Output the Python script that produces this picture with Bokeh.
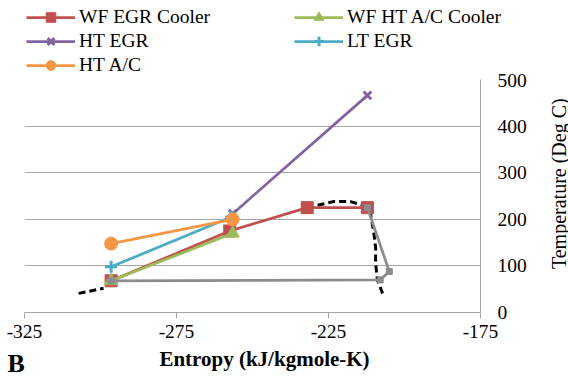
from bokeh.plotting import figure
from bokeh.models import Range1d, FixedTicker, Legend, LegendItem
from bokeh.layouts import column, row
from bokeh.core.properties import value
from bokeh.embed import file_html
from bokeh.resources import INLINE
import math

# ---- data ----
wf_egr_x = [-296.5, -257.5, -232.0, -212.2]
wf_egr_y = [68, 175, 225, 225]
wf_htac_x = [-296.5, -256.5]
wf_htac_y = [68, 170]
ht_egr_x = [-256.5, -212.2]
ht_egr_y = [212, 466]
lt_egr_x = [-296.5, -257.0]
lt_egr_y = [98, 205]
ht_ac_x = [-296.5, -256.5]
ht_ac_y = [148, 200]
cycle_x = [-212.2, -205.0, -208.0, -296.5]
cycle_y = [225, 88, 70, 68]
dome_x = [-307.2, -299.0, float("nan"), -228.6, -223.4, -217.8, -213.5, -211.2, -210.2, -209.5, -209.5, -208.9, -207.2]
dome_y = [41, 52, float("nan"), 230, 238, 238, 230, 212, 176, 139, 105, 69, 41]

series_names = ["WF EGR Cooler", "WF HT A/C Cooler", "HT EGR", "LT EGR", "HT A/C"]
x_ticks = [-325, -275, -225, -175]
x_tick_labels = ["-325", "-275", "-225", "-175"]
y_ticks = [0, 100, 200, 300, 400, 500]
y_tick_labels = ["0", "100", "200", "300", "400", "500"]
x_title = "Entropy (kJ/kgmole-K)"
y_title = "Temperature (Deg C)"
panel_tag = "B"

FONT = "Liberation Serif"
RED = "#C0504D"
GREEN = "#9BBB59"
PURPLE = "#8064A2"
BLUE = "#4BACC6"
ORANGE = "#F79646"
GRAY = "#8C8C8C"
GRID = "#A6A6A6"

styles = [
    dict(color=RED, marker="square", size=12, fill=True),
    dict(color=GREEN, marker="triangle", size=13, fill=True),
    dict(color=PURPLE, marker="x", size=11, fill=False),
    dict(color=BLUE, marker="cross", size=12, fill=False),
    dict(color=ORANGE, marker="circle", size=13, fill=True),
]
series = [(wf_egr_x, wf_egr_y), (wf_htac_x, wf_htac_y), (ht_egr_x, ht_egr_y),
          (lt_egr_x, lt_egr_y), (ht_ac_x, ht_ac_y)]


def blank(fig):
    fig.axis.visible = False
    fig.grid.visible = False
    fig.outline_line_color = None
    fig.background_fill_color = "white"
    fig.border_fill_color = "white"


def draw_series(fig, xs, ys, st):
    ln = fig.line(xs, ys, line_color=st["color"], line_width=2.75)
    if st["fill"]:
        mk = fig.scatter(xs, ys, marker=st["marker"], size=st["size"],
                         fill_color=st["color"], line_color=st["color"])
    else:
        mk = fig.scatter(xs, ys, marker=st["marker"], size=st["size"],
                         line_color=st["color"], line_width=3)
    return ln, mk


# ---------- top strip: legend (series drawn outside its view, used only for the key) ----------
TOP_H = 73
top = figure(width=568, height=TOP_H, x_range=Range1d(0, 568), y_range=Range1d(0, TOP_H),
             output_backend="svg", toolbar_location=None,
             min_border_left=0, min_border_right=0, min_border_top=0, min_border_bottom=0)
blank(top)
items = []
for name, (xs, ys), st in zip(series_names, series, styles):
    ln, mk = draw_series(top, xs, ys, st)
    items.append(LegendItem(label=name, renderers=[ln, mk]))
legend = Legend(items=items, location=(26, -4), orientation="horizontal", ncols=2,
                glyph_width=49, glyph_height=24, label_width=215, label_height=24,
                label_standoff=4, spacing=0, padding=0, margin=0,
                border_line_color=None, background_fill_alpha=0,
                label_text_font=FONT, label_text_font_size="19.5px", label_text_color="black")
top.add_layout(legend, "center")

# ---------- main chart ----------
MAIN_H = 275
p = figure(width=540, height=MAIN_H, x_range=Range1d(-325, -175), y_range=Range1d(0, 500),
           y_axis_location="right", output_backend="svg", toolbar_location=None,
           min_border_left=24, min_border_right=60, min_border_top=6, min_border_bottom=36)
p.outline_line_color = None
p.background_fill_color = "white"
p.border_fill_color = "white"

p.xgrid.visible = False
p.ygrid.ticker = FixedTicker(ticks=y_ticks)
p.ygrid.grid_line_color = GRID
p.ygrid.grid_line_width = 1

xa = p.xaxis[0]
xa.ticker = FixedTicker(ticks=x_ticks)
xa.major_label_overrides = {t: s for t, s in zip(x_ticks, x_tick_labels)}
xa.axis_line_color = GRID
xa.major_tick_line_color = GRID
xa.major_tick_out = 6
xa.major_tick_in = 0
xa.minor_tick_out = 0
xa.minor_tick_in = 0
xa.major_label_standoff = 6
xa.major_label_text_font = FONT
xa.major_label_text_font_size = "19.5px"
xa.major_label_text_color = "black"

ya = p.yaxis[0]
ya.ticker = FixedTicker(ticks=y_ticks)
ya.major_label_overrides = {t: s for t, s in zip(y_ticks, y_tick_labels)}
ya.axis_line_color = GRID
ya.major_tick_out = 0
ya.major_tick_in = 0
ya.minor_tick_out = 0
ya.minor_tick_in = 0
ya.major_label_standoff = 17
ya.major_label_text_font = FONT
ya.major_label_text_font_size = "19.5px"
ya.major_label_text_color = "black"

p.line(dome_x, dome_y, line_color="black", line_width=3, line_dash="7 4")
for (xs, ys), st in zip(series, styles):
    draw_series(p, xs, ys, st)
p.line(cycle_x, cycle_y, line_color=GRAY, line_width=2.75)
p.scatter(cycle_x, cycle_y, marker="square", size=6, fill_color=GRAY, line_color=GRAY)

# ---------- right strip: y title ----------
right = figure(width=28, height=MAIN_H, x_range=Range1d(0, 28), y_range=Range1d(0, MAIN_H),
               output_backend="svg", toolbar_location=None,
               min_border_left=0, min_border_right=0, min_border_top=0, min_border_bottom=0)
blank(right)
right.text(x=[18], y=[152], text=[y_title], angle=math.pi / 2,
           text_align="center", text_baseline="middle",
           text_font=value(FONT), text_font_size="20px", text_color="black")

# ---------- bottom strip: x title and panel tag ----------
BOT_H = 379 - TOP_H - MAIN_H
bottom = figure(width=568, height=BOT_H, x_range=Range1d(0, 568), y_range=Range1d(0, BOT_H),
                output_backend="svg", toolbar_location=None,
                min_border_left=0, min_border_right=0, min_border_top=0, min_border_bottom=0)
blank(bottom)
bottom.text(x=[264], y=[BOT_H - 10], text=[x_title], text_align="center", text_baseline="middle",
            text_font=value(FONT), text_font_size="21px", text_font_style="bold", text_color="black")
bottom.text(x=[7], y=[16], text=[panel_tag], text_align="left", text_baseline="middle",
            text_font=value(FONT), text_font_size="26px", text_font_style="bold", text_color="black")

layout = column(top, row(p, right), bottom)
open("out.html", "w").write(file_html(layout, INLINE))
